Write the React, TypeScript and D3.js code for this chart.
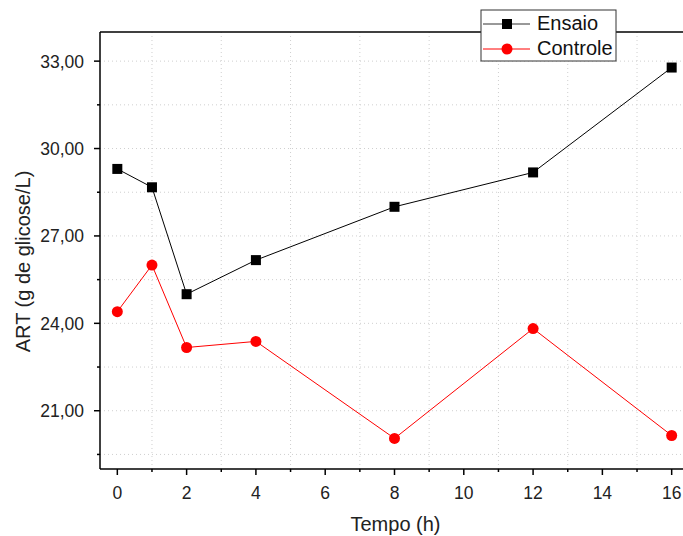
import React from "react";
import * as d3 from "d3";

const tempo = [0, 1, 2, 4, 8, 12, 16];
const ensaio = [29.3, 28.67, 25.0, 26.17, 28.0, 29.18, 32.78];
const controle = [24.4, 26.0, 23.17, 23.38, 20.05, 23.82, 20.15];
const xMajorTicks = [0, 2, 4, 6, 8, 10, 12, 14, 16];
const xMinorTicks = [1, 3, 5, 7, 9, 11, 13, 15];
const yMajorTicks = [21, 24, 27, 30, 33];
const yMinorTicks = [19.5, 22.5, 25.5, 28.5, 31.5];

export default function App() {
  const W = 683, H = 536;
  const left = 100, right = 689, top = 32, bottom = 469;
  const x = d3.scaleLinear().domain([-0.5, 16.5]).range([left, right]);
  const y = d3.scaleLinear().domain([19, 34]).range([bottom, top]);
  const line = d3.line<number>().x((_, i) => x(tempo[i])).y((d) => y(d));
  const fmt = (v: number) => v.toFixed(2).replace(".", ",");
  const font = "Liberation Sans, Arial, sans-serif";
  const gridCol = "#cfcfcf";
  return (
    <svg width={W} height={H} style={{ position: "absolute", left: 0, top: 0 }}>
      <rect x={0} y={0} width={W} height={H} fill="#fff" />
      {xMinorTicks.map((t) => (
        <line key={"gx" + t} x1={x(t)} x2={x(t)} y1={top} y2={bottom} stroke={gridCol} strokeWidth={1} strokeDasharray="1,3" />
      ))}
      {[...yMajorTicks, ...yMinorTicks].map((t) => (
        <line key={"gy" + t} x1={left} x2={W} y1={y(t)} y2={y(t)} stroke={gridCol} strokeWidth={1} strokeDasharray="1,3" />
      ))}
      {/* frame */}
      <line x1={left} x2={W} y1={top} y2={top} stroke="#000" strokeWidth={1.5} />
      <line x1={left} x2={W} y1={bottom} y2={bottom} stroke="#000" strokeWidth={1.5} />
      <line x1={left} x2={left} y1={top} y2={bottom} stroke="#000" strokeWidth={1.5} />
      {/* x ticks */}
      {xMajorTicks.map((t) => (
        <g key={"xt" + t}>
          <line x1={x(t)} x2={x(t)} y1={bottom} y2={bottom + 6} stroke="#000" strokeWidth={1.5} />
          <text x={x(t)} y={bottom + 30} textAnchor="middle" fontFamily={font} fontSize={17.5} fill="#222">{t}</text>
        </g>
      ))}
      {xMinorTicks.map((t) => (
        <line key={"xm" + t} x1={x(t)} x2={x(t)} y1={bottom} y2={bottom + 3} stroke="#000" strokeWidth={1.5} />
      ))}
      {/* y ticks */}
      {yMajorTicks.map((t) => (
        <g key={"yt" + t}>
          <line x1={left - 6} x2={left} y1={y(t)} y2={y(t)} stroke="#000" strokeWidth={1.5} />
          <text x={left - 16} y={y(t) + 6.5} textAnchor="end" fontFamily={font} fontSize={17.5} fill="#222">{fmt(t)}</text>
        </g>
      ))}
      {yMinorTicks.map((t) => (
        <line key={"ym" + t} x1={left - 3} x2={left} y1={y(t)} y2={y(t)} stroke="#000" strokeWidth={1.5} />
      ))}
      {/* series */}
      <path d={line(ensaio) || ""} fill="none" stroke="#000" strokeWidth={1} />
      <path d={line(controle) || ""} fill="none" stroke="#ff0000" strokeWidth={1} />
      {ensaio.map((v, i) => (
        <rect key={"e" + i} x={x(tempo[i]) - 5} y={y(v) - 5} width={10} height={10} fill="#000" />
      ))}
      {controle.map((v, i) => (
        <circle key={"c" + i} cx={x(tempo[i])} cy={y(v)} r={5.5} fill="#ff0000" />
      ))}
      {/* axis titles */}
      <text x={395.5} y={531} textAnchor="middle" fontFamily={font} fontSize={20} fill="#222">Tempo (h)</text>
      <text transform={`translate(30,261.5) rotate(-90)`} textAnchor="middle" fontFamily={font} fontSize={20} fill="#222">ART (g de glicose/L)</text>
      {/* legend */}
      <rect x={481} y={10} width={135} height={51} fill="#fff" stroke="#333" strokeWidth={1} />
      <line x1={483} x2={530} y1={24} y2={24} stroke="#333" strokeWidth={1} />
      <rect x={502} y={19} width={10} height={10} fill="#000" />
      <text x={537} y={30} fontFamily={font} fontSize={20} fill="#111">Ensaio</text>
      <line x1={483} x2={530} y1={49} y2={49} stroke="#ff0000" strokeWidth={1} />
      <circle cx={507} cy={49} r={5.5} fill="#ff0000" />
      <text x={537} y={55} fontFamily={font} fontSize={20} fill="#111">Controle</text>
    </svg>
  );
}
